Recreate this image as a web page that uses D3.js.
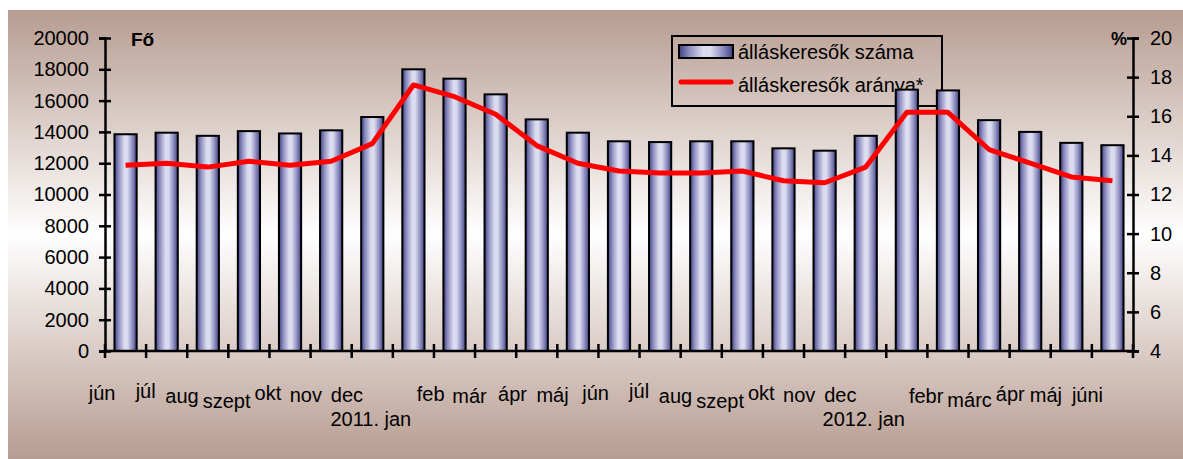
<!DOCTYPE html>
<html>
<head>
<meta charset="utf-8">
<script src="https://cdn.jsdelivr.net/npm/d3@7"></script>
<style>
  body { margin: 0; background: #fff; }
  svg text { font-family: "Liberation Sans", Arial, sans-serif; fill: #000; }
</style>
</head>
<body>
<div id="main"></div>
<script>
let categories = ['jún', 'júl', 'aug', 'szept', 'okt', 'nov', 'dec', '2011. jan', 'feb', 'már', 'ápr', 'máj',
    'jún', 'júl', 'aug', 'szept', 'okt', 'nov', 'dec', '2012. jan', 'febr', 'márc', 'ápr', 'máj', 'júni'];
let jobseekers = [13850, 13950, 13750, 14050, 13900, 14100, 14950, 18000, 17400, 16400, 14800, 13950,
    13400, 13350, 13400, 13400, 12950, 12800, 13750, 16700, 16650, 14750, 14000, 13300, 13150];
let rate = [13.5, 13.6, 13.4, 13.7, 13.5, 13.7, 14.6, 17.6, 17.0, 16.1, 14.5, 13.6,
    13.2, 13.1, 13.1, 13.2, 12.7, 12.6, 13.4, 16.2, 16.2, 14.3, 13.6, 12.9, 12.7];
let leftTicks = d3.range(0, 20001, 2000);
let rightTicks = d3.range(4, 21, 2);
let seriesNames = ['álláskeresők száma', 'álláskeresők aránya*'];

function renderChart(){
    d3.select('#main').selectAll('*').remove();

    let width = 1183, height = 459;
    let svg = d3.select('#main').append('svg').attr('width', width).attr('height', height);

    let defs = svg.append('defs');
    let bg = defs.append('linearGradient').attr('id', 'bg').attr('x1', 0).attr('y1', 0).attr('x2', 0).attr('y2', 1);
    bg.append('stop').attr('offset', '0%').attr('stop-color', '#b79c91');
    bg.append('stop').attr('offset', '50%').attr('stop-color', '#ffffff');
    bg.append('stop').attr('offset', '100%').attr('stop-color', '#b79c91');

    let barFill = defs.append('linearGradient').attr('id', 'barFill').attr('x1', 0).attr('y1', 0).attr('x2', 1).attr('y2', 0);
    [['0%', '#3f3f85'], ['18%', '#8a8abd'], ['45%', '#dcdcf0'], ['58%', '#dcdcf0'], ['82%', '#8a8abd'], ['100%', '#3f3f85']]
        .forEach(s => barFill.append('stop').attr('offset', s[0]).attr('stop-color', s[1]));

    svg.append('rect').attr('x', 8).attr('y', 10).attr('width', width - 8).attr('height', height - 10)
        .style('fill', 'url(#bg)');

    let x = d3.scaleBand().domain(d3.range(categories.length)).range([105, 1133])
        .paddingInner(0.46).paddingOuter(0.23);
    let yLeft = d3.scaleLinear().domain([0, 20000]).range([351, 38]);
    let yRight = d3.scaleLinear().domain([4, 20]).range([351, 38]);
    let step = x.step();

    // legend sits under the marks
    let legend = svg.append('g').classed('legend', true).attr('transform', 'translate(672, 36)');
    legend.append('rect').attr('width', 270).attr('height', 70)
        .style('fill', 'none').style('stroke', '#000').style('stroke-width', '2px');
    legend.append('rect').attr('x', 7).attr('y', 9).attr('width', 54).attr('height', 13)
        .style('fill', 'url(#barFill)').style('stroke', '#000').style('stroke-width', '2px');
    legend.append('line').attr('x1', 9).attr('x2', 59).attr('y1', 46).attr('y2', 46)
        .style('stroke', '#ff0000').style('stroke-width', '5px').style('stroke-linecap', 'round');
    legend.selectAll('text').data(seriesNames).join('text')
        .attr('x', 66).attr('y', (d, i) => 23 + i * 33)
        .style('font-size', '20px')
        .text(d => d);

    svg.append('g').selectAll('rect.bar').data(jobseekers).join('rect').classed('bar', true)
        .attr('x', (d, i) => x(i))
        .attr('y', d => yLeft(d))
        .attr('width', x.bandwidth())
        .attr('height', d => yLeft(0) - yLeft(d))
        .style('fill', 'url(#barFill)')
        .style('stroke', '#000').style('stroke-width', '2px');

    let line = d3.line().x((d, i) => x(i) + x.bandwidth() / 2).y(d => yRight(d));
    svg.append('path').datum(rate).attr('d', line)
        .style('fill', 'none').style('stroke', '#ff0000').style('stroke-width', '5px')
        .style('stroke-linejoin', 'round');

    let leftAxis = svg.append('g').attr('transform', 'translate(105, 0)')
        .call(d3.axisLeft(yLeft).tickValues(leftTicks).tickFormat(d3.format('d')).tickSize(6).tickPadding(10));
    let rightAxis = svg.append('g').attr('transform', 'translate(1133, 0)')
        .call(d3.axisRight(yRight).tickValues(rightTicks).tickSize(6).tickPadding(11));
    let xAxis = svg.append('g').attr('transform', 'translate(0, 351)')
        .call(d3.axisBottom(x).tickSize(0).tickFormat(''));

    [leftAxis, rightAxis, xAxis].forEach(a => {
        a.select('.domain').style('stroke', '#000').style('stroke-width', '2.5px');
        a.selectAll('.tick line').style('stroke', '#000').style('stroke-width', '2.5px');
        a.selectAll('.tick text').style('font-size', '20px').style('font-family', '"Liberation Sans", Arial, sans-serif');
    });
    leftAxis.selectAll('.tick line').attr('x1', -6).attr('x2', 6);
    rightAxis.selectAll('.tick line').attr('x1', -6).attr('x2', 6);
    xAxis.select('.domain').attr('d', 'M105,0H1133');

    xAxis.selectAll('line.cross').data(d3.range(categories.length + 1)).join('line').classed('cross', true)
        .attr('x1', i => 105 + i * step).attr('x2', i => 105 + i * step)
        .attr('y1', -7).attr('y2', 7)
        .style('stroke', '#000').style('stroke-width', '2.5px');

    // rotated text is not drawn by the renderer, so each label sits flat
    // at the centre of where its -45deg version would be
    let labels = xAxis.selectAll('text.xlabel').data(categories).join('text').classed('xlabel', true)
        .attr('text-anchor', 'middle')
        .attr('dy', '0.35em')
        .style('font-size', '20px')
        .text(d => d);

    let prevRight = -Infinity, prevY = 0;
    labels.each(function(d, i){
        let len = this.getComputedTextLength();
        let off = (len + 14) * 0.354;
        let cx = x(i) + x.bandwidth() / 2 - 9 - off;
        let cy = 28 + off;
        let overlap = prevRight + 4 - (cx - len / 2);
        if (overlap > 0 && Math.abs(cy - prevY) < 24) {
            if (overlap > 12) cy = prevY + 24;
            else cx += overlap;
        }
        prevRight = cx + len / 2;
        prevY = cy;
        d3.select(this).attr('x', cx).attr('y', cy);
    });

    svg.append('text').attr('x', 131).attr('y', 46).text('Fő')
        .style('font-size', '19px').style('font-weight', 'bold');
    svg.append('text').attr('x', 1111).attr('y', 45).text('%')
        .style('font-size', '18px').style('font-weight', 'bold');
}

renderChart();
</script>
</body>
</html>
